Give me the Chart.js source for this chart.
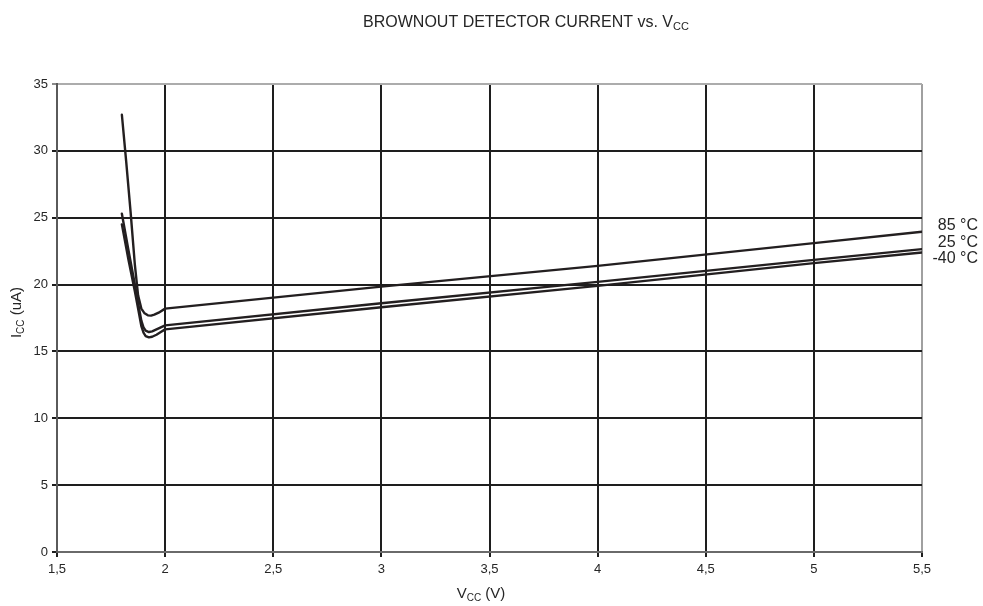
<!DOCTYPE html>
<html>
<head>
<meta charset="utf-8">
<script src="https://cdn.jsdelivr.net/npm/chart.js@4.4.1/dist/chart.umd.min.js"></script>
<style>
  html, body { margin: 0; padding: 0; background: #ffffff; }
  #wrap { width: 983px; height: 606px; position: relative; }
</style>
</head>
<body>
<div id="wrap"><canvas id="c" width="983" height="606"></canvas></div>
<script>
// ---- data ----
const vcc85   = [1.8, 1.82, 1.84, 1.86, 1.875, 1.89, 1.905, 1.92, 1.935, 1.95, 1.97, 2.0, 3, 4, 5, 5.5];
const icc85   = [32.7, 29.2, 25.5, 21.5, 19.2, 18.2, 17.85, 17.7, 17.68, 17.75, 17.9, 18.2, 19.85, 21.4, 23.1, 23.95];
const vcc25   = [1.8, 1.83, 1.86, 1.875, 1.89, 1.9, 1.91, 1.925, 1.94, 1.96, 1.98, 2.0, 3, 4, 5, 5.5];
const icc25   = [25.3, 22.6, 20.0, 18.6, 17.3, 16.8, 16.55, 16.45, 16.5, 16.65, 16.8, 16.95, 18.6, 20.2, 21.85, 22.65];
const vccM40  = [1.8, 1.83, 1.86, 1.875, 1.89, 1.9, 1.91, 1.925, 1.94, 1.96, 1.98, 2.0, 3, 4, 5, 5.5];
const iccM40  = [24.5, 21.9, 19.5, 18.2, 16.9, 16.4, 16.15, 16.05, 16.1, 16.25, 16.45, 16.65, 18.3, 19.9, 21.6, 22.4];
const seriesLabels = ['85 °C', '25 °C', '-40 °C'];
const xTicks = [1.5, 2, 2.5, 3, 3.5, 4, 4.5, 5, 5.5];
const yTicks = [0, 5, 10, 15, 20, 25, 30, 35];

const FONT = '"Liberation Sans", Arial, sans-serif';
const TXT = '#262626';
const LINE = '#231f20';

function pts(xs, ys) { return xs.map((x, i) => ({ x: x, y: ys[i] })); }

function drawParts(ctx, parts, x, y, align) {
  let total = 0;
  parts.forEach(p => { ctx.font = p.size + 'px ' + FONT; p.w = ctx.measureText(p.t).width; total += p.w; });
  let cx = align === 'center' ? x - total / 2 : (align === 'right' ? x - total : x);
  ctx.textAlign = 'left';
  ctx.textBaseline = 'alphabetic';
  parts.forEach(p => {
    ctx.font = p.size + 'px ' + FONT;
    ctx.fillText(p.t, cx, y + (p.dy || 0));
    cx += p.w;
  });
}

const textPlugin = {
  id: 'texts',
  afterDraw(chart) {
    const ctx = chart.ctx;
    ctx.save();
    ctx.fillStyle = TXT;
    // title
    drawParts(ctx, [
      { t: 'BROWNOUT DETECTOR CURRENT vs. V', size: 16 },
      { t: 'CC', size: 11, dy: 3 }
    ], 526, 27, 'center');
    // x axis title
    drawParts(ctx, [
      { t: 'V', size: 15 },
      { t: 'CC', size: 10, dy: 3 },
      { t: ' (V)', size: 15 }
    ], 481, 598, 'center');
    // y axis title (rotated)
    ctx.save();
    ctx.translate(20.5, 312.5);
    ctx.rotate(-Math.PI / 2);
    drawParts(ctx, [
      { t: 'I', size: 15 },
      { t: 'CC', size: 10, dy: 3 },
      { t: ' (uA)', size: 15 }
    ], 0, 0, 'center');
    ctx.restore();
    // series labels at right
    ctx.font = '16px ' + FONT;
    ctx.textAlign = 'right';
    ctx.textBaseline = 'middle';
    const labelY = [225.5, 242.5, 259];
    seriesLabels.forEach((s, i) => ctx.fillText(s, 978, labelY[i]));
    ctx.restore();
  }
};

const darkGrid = '#1e1e1e';

new Chart(document.getElementById('c'), {
  type: 'line',
  data: {
    datasets: [
      { label: seriesLabels[0], data: pts(vcc85, icc85) },
      { label: seriesLabels[1], data: pts(vcc25, icc25) },
      { label: seriesLabels[2], data: pts(vccM40, iccM40) }
    ].map(d => Object.assign(d, {
      borderColor: LINE, borderWidth: 2.4, pointRadius: 0, fill: false,
      tension: 0, borderJoinStyle: 'round', borderCapStyle: 'round'
    }))
  },
  options: {
    responsive: false,
    animation: false,
    devicePixelRatio: 1,
    layout: { padding: { top: 84, right: 61, left: 0, bottom: 0 } },
    plugins: { legend: { display: false }, title: { display: false }, tooltip: { enabled: false } },
    scales: {
      x: {
        type: 'linear', min: 1.5, max: 5.5,
        afterFit(s) { s.height = 54; },
        afterBuildTicks(s) { s.ticks = xTicks.map(v => ({ value: v })); },
        ticks: {
          padding: 5, color: TXT, font: { family: FONT, size: 13 },
          maxRotation: 0, autoSkip: false,
          callback: v => String(v).replace('.', ',')
        },
        grid: {
          lineWidth: 2, tickLength: 5,
          color: c => c.tick && c.tick.value === 5.5 ? '#a0a0a0' : (c.tick && c.tick.value === 1.5 ? '#5a5a5a' : darkGrid),
          tickColor: darkGrid
        },
        border: { display: true, color: '#6a6a6a', width: 2 }
      },
      y: {
        type: 'linear', min: 0, max: 35,
        afterFit(s) { s.width = 57; },
        afterBuildTicks(s) { s.ticks = yTicks.map(v => ({ value: v })); },
        ticks: { padding: 4, color: TXT, font: { family: FONT, size: 13 } },
        grid: {
          lineWidth: 2, tickLength: 5,
          color: c => c.tick && c.tick.value === 35 ? '#acacac' : (c.tick && c.tick.value === 0 ? '#6a6a6a' : darkGrid),
          tickColor: c => c.tick && c.tick.value === 35 ? '#8a8a8a' : darkGrid
        },
        border: { display: true, color: '#5a5a5a', width: 2 }
      }
    }
  },
  plugins: [textPlugin]
});
</script>
</body>
</html>
